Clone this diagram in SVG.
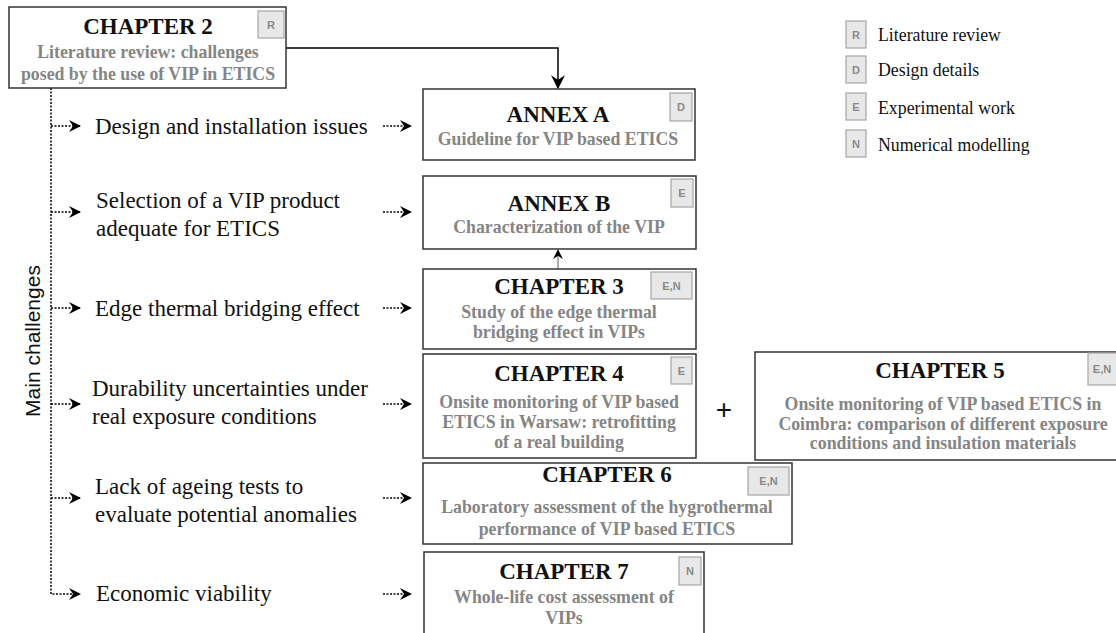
<svg xmlns="http://www.w3.org/2000/svg" width="1116" height="633" viewBox="0 0 1116 633">
<defs>
<marker id="ah" viewBox="0 0 12 12" refX="11" refY="6" markerWidth="12" markerHeight="12" markerUnits="userSpaceOnUse" orient="auto">
<path d="M0,0 L12,6 L0,12 L4,6 Z" fill="#000"/>
</marker>
<marker id="ahs" viewBox="0 0 12 12" refX="11" refY="6" markerWidth="10" markerHeight="10" markerUnits="userSpaceOnUse" orient="auto">
<path d="M0,0 L12,6 L0,12 L4,6 Z" fill="#000"/>
</marker>
<marker id="ahb" viewBox="0 0 12 12" refX="11" refY="6" markerWidth="14" markerHeight="14" markerUnits="userSpaceOnUse" orient="auto">
<path d="M0,0 L12,6 L0,12 L4,6 Z" fill="#000"/>
</marker>
</defs>
<style>
.box{fill:#fff;stroke:#333;stroke-width:1.5}
.tag{fill:#e8e8e8;stroke:#a6a6a6;stroke-width:1.2}
.tagt{font-family:"Liberation Sans",Arial,sans-serif;font-weight:bold;font-size:11px;fill:#8a8a8a;text-anchor:middle}
.title{font-family:"Liberation Serif","Times New Roman",serif;font-weight:bold;font-size:23px;fill:#111;text-anchor:middle}
.sub{font-family:"Liberation Serif","Times New Roman",serif;font-weight:bold;font-size:17.8px;fill:#858585;text-anchor:middle}
.ch{font-family:"Liberation Serif","Times New Roman",serif;font-size:23px;fill:#111}
.leg{font-family:"Liberation Serif","Times New Roman",serif;font-size:17.8px;fill:#111}
.dot{fill:none;stroke:#000;stroke-width:1.5;stroke-dasharray:2 1.5}
.solid{fill:none;stroke:#000;stroke-width:1.5}
</style>
<rect width="1116" height="633" fill="#fff"/>

<g id="connectors">
<path class="solid" d="M286,48 H558 V88" marker-end="url(#ahb)"/>
<path d="M558,269 V250" fill="none" stroke="#777" stroke-width="1.2" marker-end="url(#ahs)"/>
<path class="dot" d="M51,88 V594 H80" marker-end="url(#ah)"/>
<path class="dot" d="M51,126 H80" marker-end="url(#ah)"/>
<path class="dot" d="M51,212 H80" marker-end="url(#ah)"/>
<path class="dot" d="M51,308 H80" marker-end="url(#ah)"/>
<path class="dot" d="M51,404 H80" marker-end="url(#ah)"/>
<path class="dot" d="M51,498 H80" marker-end="url(#ah)"/>
<path class="dot" d="M383,126 H411" marker-end="url(#ah)"/>
<path class="dot" d="M383,212 H411" marker-end="url(#ah)"/>
<path class="dot" d="M383,308 H411" marker-end="url(#ah)"/>
<path class="dot" d="M383,404 H411" marker-end="url(#ah)"/>
<path class="dot" d="M383,498 H411" marker-end="url(#ah)"/>
<path class="dot" d="M383,594 H411" marker-end="url(#ah)"/>
</g>

<g id="main-challenges-label">
<text transform="translate(40,341) rotate(-90)" font-family="'Liberation Sans',Arial,sans-serif" font-size="21" fill="#111" text-anchor="middle">Main challenges</text>
</g>

<g id="challenges">
<text class="ch" x="95" y="134">Design and installation issues</text>
<text class="ch" x="96" y="208">Selection of a VIP product</text>
<text class="ch" x="96" y="236">adequate for ETICS</text>
<text class="ch" x="95" y="316">Edge thermal bridging effect</text>
<text class="ch" x="92" y="396">Durability uncertainties under</text>
<text class="ch" x="92" y="424">real exposure conditions</text>
<text class="ch" x="95" y="494">Lack of ageing tests to</text>
<text class="ch" x="95" y="522">evaluate potential anomalies</text>
<text class="ch" x="96" y="601">Economic viability</text>
</g>

<g id="chapter2">
<rect class="box" x="9" y="7" width="277" height="81" stroke-width="2"/>
<rect class="tag" x="258" y="11" width="26" height="27"/>
<text class="tagt" x="271" y="29">R</text>
<text class="title" x="148" y="34">CHAPTER 2</text>
<text class="sub" x="148" y="58">Literature review: challenges</text>
<text class="sub" x="148" y="80">posed by the use of VIP in ETICS</text>
</g>

<g id="annexA">
<rect class="box" x="423" y="89" width="272" height="71"/>
<rect class="tag" x="670" y="93" width="22" height="28"/>
<text class="tagt" x="681" y="111">D</text>
<text class="title" x="558" y="122">ANNEX A</text>
<text class="sub" x="558" y="145">Guideline for VIP based ETICS</text>
</g>

<g id="annexB">
<rect class="box" x="423" y="176" width="273" height="73"/>
<rect class="tag" x="671" y="179" width="22" height="28"/>
<text class="tagt" x="682" y="197">E</text>
<text class="title" x="559" y="211">ANNEX B</text>
<text class="sub" x="559" y="233">Characterization of the VIP</text>
</g>

<g id="chapter3">
<rect class="box" x="423" y="269" width="273" height="80"/>
<rect class="tag" x="651" y="272" width="41" height="27"/>
<text class="tagt" x="671.5" y="290">E,N</text>
<text class="title" x="559" y="294">CHAPTER 3</text>
<text class="sub" x="559" y="318">Study of the edge thermal</text>
<text class="sub" x="559" y="338">bridging effect in VIPs</text>
</g>

<g id="chapter4">
<rect class="box" x="423" y="354" width="273" height="104"/>
<rect class="tag" x="671" y="357" width="21" height="27"/>
<text class="tagt" x="681.5" y="375">E</text>
<text class="title" x="559" y="381">CHAPTER 4</text>
<text class="sub" x="559" y="408">Onsite monitoring of VIP based</text>
<text class="sub" x="559" y="428">ETICS in Warsaw: retrofitting</text>
<text class="sub" x="559" y="448">of a real building</text>
</g>

<g id="plus">
<text x="724" y="419" font-family="'Liberation Sans',Arial,sans-serif" font-size="28" fill="#111" text-anchor="middle">+</text>
</g>

<g id="chapter5">
<rect class="box" x="755" y="352" width="370" height="108"/>
<rect class="tag" x="1088" y="353" width="30" height="32"/>
<text class="tagt" x="1102" y="373">E,N</text>
<text class="title" x="940" y="378">CHAPTER 5</text>
<text class="sub" x="943" y="410">Onsite monitoring of VIP based ETICS in</text>
<text class="sub" x="943" y="430">Coimbra: comparison of different exposure</text>
<text class="sub" x="943" y="449">conditions and insulation materials</text>
</g>

<g id="chapter6">
<rect class="box" x="423" y="463" width="369" height="81"/>
<rect class="tag" x="748" y="467" width="41" height="28"/>
<text class="tagt" x="768.5" y="485">E,N</text>
<text class="title" x="607" y="482">CHAPTER 6</text>
<text class="sub" x="607" y="513">Laboratory assessment of the hygrothermal</text>
<text class="sub" x="607" y="535">performance of VIP based ETICS</text>
</g>

<g id="chapter7">
<rect class="box" x="424" y="552" width="280" height="95"/>
<rect class="tag" x="679" y="557" width="22" height="28"/>
<text class="tagt" x="690" y="575">N</text>
<text class="title" x="564" y="579">CHAPTER 7</text>
<text class="sub" x="564" y="603">Whole-life cost assessment of</text>
<text class="sub" x="564" y="624">VIPs</text>
</g>

<g id="legend">
<rect class="tag" x="846" y="21" width="20" height="27"/>
<text class="tagt" x="856" y="39">R</text>
<text class="leg" x="878" y="41">Literature review</text>
<rect class="tag" x="846" y="56" width="20" height="27"/>
<text class="tagt" x="856" y="74">D</text>
<text class="leg" x="878" y="76">Design details</text>
<rect class="tag" x="846" y="93" width="20" height="27"/>
<text class="tagt" x="856" y="111">E</text>
<text class="leg" x="878" y="114">Experimental work</text>
<rect class="tag" x="846" y="130" width="20" height="27"/>
<text class="tagt" x="856" y="148">N</text>
<text class="leg" x="878" y="151">Numerical modelling</text>
</g>
</svg>
